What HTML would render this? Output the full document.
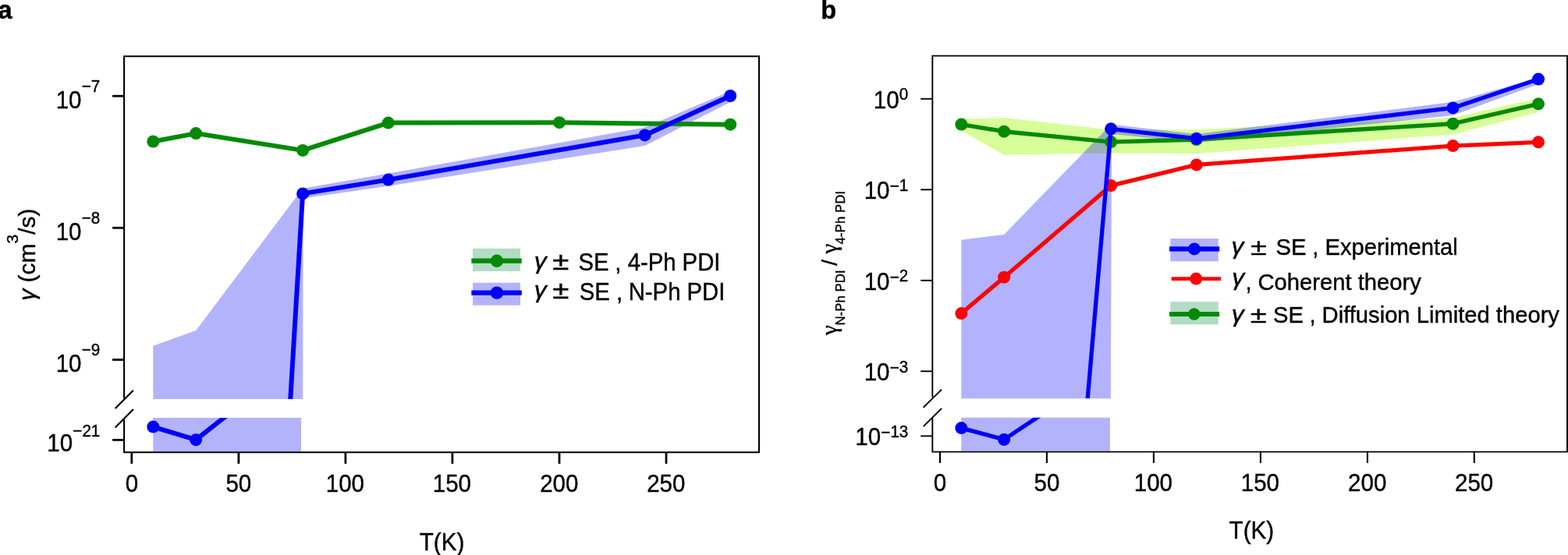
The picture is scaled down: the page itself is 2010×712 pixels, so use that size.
<!DOCTYPE html>
<html><head><meta charset="utf-8"><title>Figure</title>
<style>
html,body{margin:0;padding:0;background:#fff;}
body{width:2010px;height:712px;overflow:hidden;}
svg{display:block;font-family:"Liberation Sans", Arial, Helvetica, sans-serif;}
text{stroke:#000;stroke-width:0.4px;}
</style></head>
<body>
<svg width="2010" height="712" viewBox="0 0 2010 712">
<rect width="2010" height="712" fill="#fff"/>
<defs><clipPath id="ca_up"><rect x="150" y="60" width="830" height="451.9"/></clipPath><clipPath id="ca_lo"><rect x="150" y="536.1" width="830" height="50"/></clipPath><clipPath id="cb_up"><rect x="1190" y="60" width="820" height="450.9"/></clipPath><clipPath id="cb_lo"><rect x="1190" y="535.8" width="820" height="50"/></clipPath></defs>
<text transform="translate(-2.55,23.50) scale(1,1.04)" font-size="32.5" font-weight="bold">a</text>
<polygon points="196.3,443.8 251.1,424.0 388.1,241.7 497.7,222.5 826.6,163.4 936.2,117.0 936.2,131.0 826.6,187.0 497.7,238.7 391.0,254.0 388.6,258.0 388.3,511.9 196.3,511.9" fill="#b3b3fc" stroke="none" />
<polygon points="196.3,536.1 386.0,536.1 386.0,579.2 196.3,579.2" fill="#b3b3fc" stroke="none" />
<polyline points="196.3,181.5 251.1,171.1 388.1,192.9 497.7,157.6 717.0,157.2 936.2,159.7" fill="none" stroke="#038a06" stroke-width="6.0" stroke-linejoin="round" stroke-linecap="round" />
<circle cx="196.3" cy="181.5" r="8.0" fill="#038a06"/><circle cx="251.1" cy="171.1" r="8.0" fill="#038a06"/><circle cx="388.1" cy="192.9" r="8.0" fill="#038a06"/><circle cx="497.7" cy="157.6" r="8.0" fill="#038a06"/><circle cx="717.0" cy="157.2" r="8.0" fill="#038a06"/><circle cx="936.2" cy="159.7" r="8.0" fill="#038a06"/>
<g clip-path="url(#ca_up)"><polyline points="370.6,540.0 388.1,248.4 497.7,230.6 826.6,173.4 936.2,123.0" fill="none" stroke="#0000f8" stroke-width="6.0" stroke-linejoin="round" stroke-linecap="round" /></g>
<g clip-path="url(#ca_lo)"><polyline points="196.3,547.6 251.1,564.2 307.1,520.0" fill="none" stroke="#0000f8" stroke-width="6.0" stroke-linejoin="round" stroke-linecap="round" /></g>
<circle cx="388.1" cy="248.4" r="8.0" fill="#0000f8"/><circle cx="497.7" cy="230.6" r="8.0" fill="#0000f8"/><circle cx="826.6" cy="173.4" r="8.0" fill="#0000f8"/><circle cx="936.2" cy="123.0" r="8.0" fill="#0000f8"/><circle cx="196.3" cy="547.6" r="8.0" fill="#0000f8"/><circle cx="251.1" cy="564.2" r="8.0" fill="#0000f8"/>
<path d="M159.1,511.3 L159.1,72.2 L973,72.2 L973,580.3 L159.1,580.3 L159.1,537.5" fill="none" stroke="#000" stroke-width="2.1"/>
<line x1="147.7" y1="523.9" x2="170.9" y2="500.7" stroke="#000" stroke-width="2.1" stroke-linecap="butt"/>
<line x1="147.7" y1="548.5" x2="170.9" y2="525.0" stroke="#000" stroke-width="2.1" stroke-linecap="butt"/>
<line x1="144.1" y1="123.2" x2="159.1" y2="123.2" stroke="#000" stroke-width="2.8" stroke-linecap="butt"/>
<line x1="144.1" y1="292.3" x2="159.1" y2="292.3" stroke="#000" stroke-width="2.8" stroke-linecap="butt"/>
<line x1="144.1" y1="461.5" x2="159.1" y2="461.5" stroke="#000" stroke-width="2.8" stroke-linecap="butt"/>
<line x1="144.1" y1="564.4" x2="159.1" y2="564.4" stroke="#000" stroke-width="2.8" stroke-linecap="butt"/>
<line x1="168.8" y1="580.3" x2="168.8" y2="594.9" stroke="#000" stroke-width="2.8" stroke-linecap="butt"/>
<text transform="translate(160.65,630.50) scale(1,1.04)" font-size="29.5">0</text>
<line x1="305.9" y1="580.3" x2="305.9" y2="594.9" stroke="#000" stroke-width="2.8" stroke-linecap="butt"/>
<text transform="translate(289.46,630.50) scale(1,1.04)" font-size="29.5">50</text>
<line x1="442.9" y1="580.3" x2="442.9" y2="594.9" stroke="#000" stroke-width="2.8" stroke-linecap="butt"/>
<text transform="translate(417.75,630.50) scale(1,1.04)" font-size="29.5">100</text>
<line x1="579.9" y1="580.3" x2="579.9" y2="594.9" stroke="#000" stroke-width="2.8" stroke-linecap="butt"/>
<text transform="translate(554.78,630.50) scale(1,1.04)" font-size="29.5">150</text>
<line x1="717.0" y1="580.3" x2="717.0" y2="594.9" stroke="#000" stroke-width="2.8" stroke-linecap="butt"/>
<text transform="translate(692.19,630.50) scale(1,1.04)" font-size="29.5">200</text>
<line x1="854.0" y1="580.3" x2="854.0" y2="594.9" stroke="#000" stroke-width="2.8" stroke-linecap="butt"/>
<text transform="translate(829.22,630.50) scale(1,1.04)" font-size="29.5">250</text>
<text transform="translate(71.70,138.60) scale(1,1.04)" font-size="29.5">10</text><text transform="translate(104.81,118.00) scale(1,1.04)" font-size="20.6">−7</text>
<text transform="translate(71.70,307.70) scale(1,1.04)" font-size="29.5">10</text><text transform="translate(104.81,287.10) scale(1,1.04)" font-size="20.6">−8</text>
<text transform="translate(71.70,476.90) scale(1,1.04)" font-size="29.5">10</text><text transform="translate(104.81,456.30) scale(1,1.04)" font-size="20.6">−9</text>
<text transform="translate(60.24,579.40) scale(1,1.04)" font-size="29.5">10</text><text transform="translate(93.36,559.90) scale(1,1.04)" font-size="20.6">−21</text>
<text transform="translate(537.72,705.70) scale(1,1.04)" font-size="29.6">T(K)</text>
<text transform="translate(44.5,384.2) rotate(-90)" font-size="30.0"><tspan x="-1.63" font-style="italic">γ</tspan><tspan> (cm</tspan><tspan dy="-21.5" font-size="21">3</tspan><tspan dy="21.5">/s)</tspan></text>
<rect x="606" y="318.8" width="61" height="29.2" fill="#b3dcc4"/>
<line x1="604.3" y1="334.6" x2="668.8" y2="334.6" stroke="#038a06" stroke-width="6.2" stroke-linecap="butt"/>
<circle cx="636.9" cy="334.8" r="8.2" fill="#038a06"/>
<rect x="606" y="362.7" width="61" height="29" fill="#b3b3fc"/>
<line x1="604.3" y1="375.6" x2="668.8" y2="375.6" stroke="#0000f8" stroke-width="6.2" stroke-linecap="butt"/>
<circle cx="636.9" cy="375.6" r="8.2" fill="#0000f8"/>
<text transform="translate(684.77,344.70) scale(1.14,1.04)" font-size="28.0" font-style="italic">γ</text>
<text transform="translate(708.17,345.90) scale(1.313,1.04)" font-size="29.3">±</text>
<text transform="translate(741.57,347.40) scale(1,1.04)" font-size="29.3">SE</text>
<text transform="translate(788.37,347.40) scale(1,1.04)" font-size="29.3">,</text>
<text transform="translate(804.63,347.40) scale(1,1.04)" font-size="29.3">4-Ph PDI</text>
<text transform="translate(684.77,382.00) scale(1.14,1.04)" font-size="28.0" font-style="italic">γ</text>
<text transform="translate(708.17,383.20) scale(1.313,1.04)" font-size="29.3">±</text>
<text transform="translate(742.67,384.70) scale(1,1.04)" font-size="29.3">SE</text>
<text transform="translate(789.97,384.70) scale(1,1.04)" font-size="29.3">,</text>
<text transform="translate(805.70,384.70) scale(1,1.04)" font-size="29.3">N-Ph PDI</text>
<text transform="translate(1052.26,23.50) scale(1,1.04)" font-size="32.5" font-weight="bold">b</text>
<polygon points="1232.3,152.6 1287.1,150.9 1424.1,166.6 1533.7,166.3 1862.5,151.0 1972.0,125.7 1972.0,144.0 1862.5,172.5 1533.7,197.0 1424.1,196.5 1287.1,198.8 1232.3,167.4" fill="#d8fe99" stroke="none" />
<polygon points="1232.3,307.7 1287.1,300.9 1414.8,169.2 1422.1,163.0 1428.1,160.0 1533.7,172.0 1862.5,130.8 1972.0,100.0 1972.0,108.0 1862.5,148.0 1533.7,183.0 1431.0,172.6 1425.1,172.6 1423.8,511.2 1232.3,511.2" fill="#0000ff" stroke="none" fill-opacity="0.3"/>
<polygon points="1232.3,535.8 1422.9,535.8 1422.9,578.6 1232.3,578.6" fill="#b3b3fc" stroke="none" />
<polyline points="1232.3,159.6 1287.1,168.7 1424.1,182.1 1533.7,179.0 1862.5,158.7 1972.0,133.3" fill="none" stroke="#038a06" stroke-width="5.4" stroke-linejoin="round" stroke-linecap="round" />
<circle cx="1232.3" cy="159.6" r="8.0" fill="#038a06"/><circle cx="1287.1" cy="168.7" r="8.0" fill="#038a06"/><circle cx="1424.1" cy="182.1" r="8.0" fill="#038a06"/><circle cx="1533.7" cy="179.0" r="8.0" fill="#038a06"/><circle cx="1862.5" cy="158.7" r="8.0" fill="#038a06"/><circle cx="1972.0" cy="133.3" r="8.0" fill="#038a06"/>
<polyline points="1232.3,402.1 1287.1,355.7 1424.1,238.1 1533.7,211.4 1862.5,187.1 1972.0,182.3" fill="none" stroke="#fb0303" stroke-width="5.3" stroke-linejoin="round" stroke-linecap="round" />
<circle cx="1232.3" cy="402.1" r="8.0" fill="#fb0303"/><circle cx="1287.1" cy="355.7" r="8.0" fill="#fb0303"/><circle cx="1424.1" cy="238.1" r="8.0" fill="#fb0303"/><circle cx="1533.7" cy="211.4" r="8.0" fill="#fb0303"/><circle cx="1862.5" cy="187.1" r="8.0" fill="#fb0303"/><circle cx="1972.0" cy="182.3" r="8.0" fill="#fb0303"/>
<g clip-path="url(#cb_up)"><polyline points="1391.7,540.0 1424.1,165.3 1533.7,177.8 1862.5,138.4 1972.0,101.6" fill="none" stroke="#0000f8" stroke-width="5.3" stroke-linejoin="round" stroke-linecap="round" /></g>
<g clip-path="url(#cb_lo)"><polyline points="1232.3,549.1 1287.1,563.9 1352.9,520.0" fill="none" stroke="#0000f8" stroke-width="5.3" stroke-linejoin="round" stroke-linecap="round" /></g>
<circle cx="1424.1" cy="165.3" r="8.0" fill="#0000f8"/><circle cx="1533.7" cy="177.8" r="8.0" fill="#0000f8"/><circle cx="1862.5" cy="138.4" r="8.0" fill="#0000f8"/><circle cx="1972.0" cy="101.6" r="8.0" fill="#0000f8"/><circle cx="1232.3" cy="549.1" r="8.0" fill="#0000f8"/><circle cx="1287.1" cy="563.9" r="8.0" fill="#0000f8"/>
<path d="M1195.3,509.5 L1195.3,71.6 L2009.0,71.6 L2009.0,579.6 L1195.3,579.6 L1195.3,536.2" fill="none" stroke="#000" stroke-width="1.9"/>
<line x1="1183.6" y1="522.8" x2="1207.0" y2="499.7" stroke="#000" stroke-width="1.9" stroke-linecap="butt"/>
<line x1="1183.6" y1="547.1" x2="1207.0" y2="524.0" stroke="#000" stroke-width="1.9" stroke-linecap="butt"/>
<line x1="1180.2" y1="126.8" x2="1195.3" y2="126.8" stroke="#000" stroke-width="1.9" stroke-linecap="butt"/>
<line x1="1180.2" y1="243.3" x2="1195.3" y2="243.3" stroke="#000" stroke-width="1.9" stroke-linecap="butt"/>
<line x1="1180.2" y1="359.8" x2="1195.3" y2="359.8" stroke="#000" stroke-width="1.9" stroke-linecap="butt"/>
<line x1="1180.2" y1="476.3" x2="1195.3" y2="476.3" stroke="#000" stroke-width="1.9" stroke-linecap="butt"/>
<line x1="1180.2" y1="559.4" x2="1195.3" y2="559.4" stroke="#000" stroke-width="1.9" stroke-linecap="butt"/>
<line x1="1205.0" y1="579.6" x2="1205.0" y2="594.0" stroke="#000" stroke-width="2.1" stroke-linecap="butt"/>
<text transform="translate(1196.75,629.90) scale(1,1.04)" font-size="29.5">0</text>
<line x1="1341.9" y1="579.6" x2="1341.9" y2="594.0" stroke="#000" stroke-width="2.1" stroke-linecap="butt"/>
<text transform="translate(1325.51,629.90) scale(1,1.04)" font-size="29.5">50</text>
<line x1="1478.9" y1="579.6" x2="1478.9" y2="594.0" stroke="#000" stroke-width="2.1" stroke-linecap="butt"/>
<text transform="translate(1453.75,629.90) scale(1,1.04)" font-size="29.5">100</text>
<line x1="1615.9" y1="579.6" x2="1615.9" y2="594.0" stroke="#000" stroke-width="2.1" stroke-linecap="butt"/>
<text transform="translate(1590.73,629.90) scale(1,1.04)" font-size="29.5">150</text>
<line x1="1752.9" y1="579.6" x2="1752.9" y2="594.0" stroke="#000" stroke-width="2.1" stroke-linecap="butt"/>
<text transform="translate(1728.09,629.90) scale(1,1.04)" font-size="29.5">200</text>
<line x1="1889.8" y1="579.6" x2="1889.8" y2="594.0" stroke="#000" stroke-width="2.1" stroke-linecap="butt"/>
<text transform="translate(1865.07,629.90) scale(1,1.04)" font-size="29.5">250</text>
<text transform="translate(1119.73,138.60) scale(1,1.04)" font-size="29.5">10</text><text transform="translate(1152.84,128.30) scale(1,1.04)" font-size="20.6">0</text>
<text transform="translate(1107.70,255.10) scale(1,1.04)" font-size="29.5">10</text><text transform="translate(1140.81,244.80) scale(1,1.04)" font-size="20.6"><tspan dy="1.5">−</tspan><tspan dy="-1.5">1</tspan></text>
<text transform="translate(1107.70,371.60) scale(1,1.04)" font-size="29.5">10</text><text transform="translate(1140.81,361.30) scale(1,1.04)" font-size="20.6"><tspan dy="1.5">−</tspan><tspan dy="-1.5">2</tspan></text>
<text transform="translate(1107.70,488.10) scale(1,1.04)" font-size="29.5">10</text><text transform="translate(1140.81,477.80) scale(1,1.04)" font-size="20.6"><tspan dy="1.5">−</tspan><tspan dy="-1.5">3</tspan></text>
<text transform="translate(1096.24,571.20) scale(1,1.04)" font-size="29.5">10</text><text transform="translate(1129.36,560.90) scale(1,1.04)" font-size="20.6"><tspan dy="1.5">−</tspan><tspan dy="-1.5">13</tspan></text>
<text transform="translate(1575.62,691.10) scale(1,1.04)" font-size="29.6">T(K)</text>
<text transform="translate(1073.4,430.3) rotate(-90)" font-size="28.0"><tspan x="0.40" font-family="Liberation Serif, serif" font-size="29.0">γ</tspan><tspan x="12.71" dy="9.4" font-size="16.9">N-Ph PDI</tspan><tspan x="89.60" dy="-9.4">/</tspan><tspan x="104.70" font-family="Liberation Serif, serif" font-size="29.0">γ</tspan><tspan x="116.91" dy="9.4" font-size="16.9">4-Ph PDI</tspan></text>
<rect x="1500.3" y="306" width="61.4" height="29.3" fill="#b3b3fc"/>
<line x1="1499.0" y1="319.4" x2="1563.2" y2="319.4" stroke="#0000f8" stroke-width="6.1" stroke-linecap="butt"/>
<circle cx="1530.9" cy="319.4" r="8.0" fill="#0000f8"/>
<line x1="1501.6" y1="357.6" x2="1565.0" y2="357.6" stroke="#fb0303" stroke-width="4.9" stroke-linecap="butt"/>
<circle cx="1533.2" cy="357.6" r="8.0" fill="#fb0303"/>
<rect x="1500.3" y="387" width="61.4" height="29.3" fill="#b3dcc4"/>
<line x1="1499.0" y1="403.0" x2="1563.2" y2="403.0" stroke="#038a06" stroke-width="5.9" stroke-linecap="butt"/>
<circle cx="1530.8" cy="403.0" r="7.8" fill="#038a06"/>
<text transform="translate(1578.57,325.60) scale(1.14,1.04)" font-size="28.0" font-style="italic">γ</text>
<text transform="translate(1603.09,326.80) scale(1.297,1.04)" font-size="29.2">±</text>
<text transform="translate(1635.57,326.80) scale(1,1.04)" font-size="29.2">SE</text>
<text transform="translate(1682.18,326.80) scale(1,1.04)" font-size="29.2">,</text>
<text transform="translate(1698.50,326.80) scale(1,1.04)" font-size="29.2">Experimental</text>
<text transform="translate(1579.27,365.57) scale(1.14,1.04)" font-size="28.0" font-style="italic">γ</text>
<text transform="translate(1596.48,371.60) scale(1,1.04)" font-size="29.2">,</text>
<text transform="translate(1612.52,371.60) scale(1,1.04)" font-size="29.2">Coherent theory</text>
<text transform="translate(1578.67,412.70) scale(1.14,1.04)" font-size="28.0" font-style="italic">γ</text>
<text transform="translate(1602.68,413.90) scale(1.311,1.04)" font-size="29.2">±</text>
<text transform="translate(1631.97,413.90) scale(1,1.04)" font-size="29.2">SE</text>
<text transform="translate(1678.48,413.90) scale(1,1.04)" font-size="29.2">,</text>
<text transform="translate(1694.60,413.90) scale(1,1.04)" font-size="29.2">Diffusion Limited theory</text>
</svg>
</body></html>
